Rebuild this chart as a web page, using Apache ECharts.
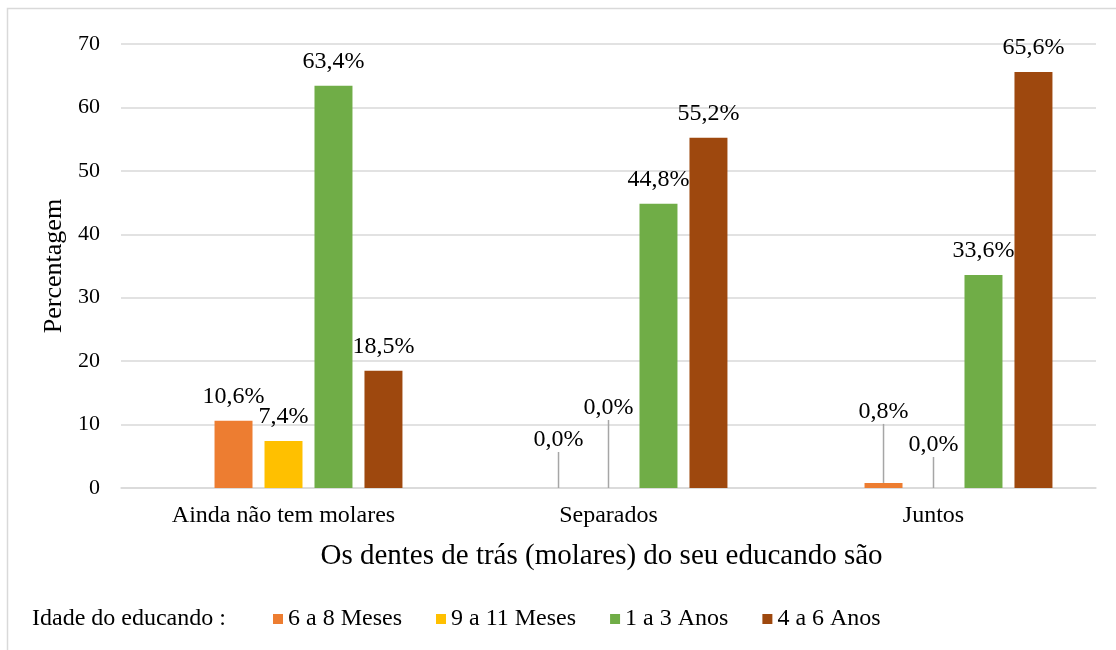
<!DOCTYPE html>
<html>
<head>
<meta charset="utf-8">
<script src="https://cdn.jsdelivr.net/npm/echarts@6/dist/echarts.min.js"></script>
<style>
  html, body { margin: 0; padding: 0; background: #fff; }
  #chart { width: 1116px; height: 650px; }
</style>
</head>
<body>
<div id="chart"></div>
<script>
const categories = ["Ainda não tem molares", "Separados", "Juntos"];
const legendTitle = "Idade do educando :";
const seriesNames = ["6 a 8 Meses", "9 a 11 Meses", "1 a 3 Anos", "4 a 6 Anos"];
const meses6a8 = [10.6, 0.0, 0.8];
const meses9a11 = [7.4, 0.0, 0.0];
const anos1a3 = [63.4, 44.8, 33.6];
const anos4a6 = [18.5, 55.2, 65.6];
const yTicks = [0, 10, 20, 30, 40, 50, 60, 70];

const colors = ["#ED7D31", "#FFC000", "#70AD47", "#9E480E"];
const font = "'Liberation Serif', 'Times New Roman', serif";

// label moved up with a leader line (Excel callouts), per series index -> data index -> dy
const callouts = {
  0: { 1: -24, 2: -47 },
  1: { 1: -56, 2: -19 }
};

function fmt(v) {
  return v.toFixed(1).replace(".", ",") + "%";
}

function makeSeries(name, values, idx) {
  const moves = callouts[idx] || {};
  return {
    name: name,
    type: "bar",
    barGap: "31.6%",
    barCategoryGap: "26.8%",
    itemStyle: { color: colors[idx] },
    label: {
      show: true,
      position: "top",
      distance: 12,
      color: "#000",
      fontFamily: font,
      fontSize: 24,
      formatter: p => fmt(p.value)
    },
    labelLine: {
      show: false,
      lineStyle: { color: "#A6A6A6", width: 1.5 }
    },
    labelLayout: function (p) {
      if (moves[p.dataIndex] !== undefined) {
        return { dy: moves[p.dataIndex] };
      }
      return {};
    },
    data: values.map((v, i) =>
      moves[i] !== undefined ? { value: v, labelLine: { show: true } } : v
    )
  };
}

const chart = echarts.init(document.getElementById("chart"));

const option = {
  animation: false,
  backgroundColor: "#fff",
  graphic: [
    {
      type: "rect",
      shape: { x: 7.5, y: 8.5, width: 1200, height: 800 },
      style: { fill: "none", stroke: "#D9D9D9", lineWidth: 1.5 },
      z: -1
    }
  ],
  title: {
    text: legendTitle,
    left: 27,
    top: 602,
    textStyle: { fontFamily: font, fontSize: 24, fontWeight: "normal", color: "#000" }
  },
  legend: {
    data: seriesNames,
    left: 268,
    top: 602,
    itemWidth: 10,
    itemHeight: 10,
    itemGap: 34,
    icon: "rect",
    textStyle: { fontFamily: font, fontSize: 24, color: "#000" }
  },
  grid: { left: 121, right: 20, top: 44, bottom: 162 },
  xAxis: {
    type: "category",
    data: categories,
    name: "Os dentes de trás (molares) do seu educando são",
    nameLocation: "middle",
    nameGap: 54,
    nameTextStyle: { fontFamily: font, fontSize: 29, color: "#000", padding: [0, 14, 0, 0] },
    axisLine: { lineStyle: { color: "#D9D9D9", width: 1.5 } },
    axisTick: { show: false },
    axisLabel: { fontFamily: font, fontSize: 24, color: "#000", margin: 16 }
  },
  yAxis: {
    type: "value",
    min: yTicks[0],
    max: yTicks[yTicks.length - 1],
    interval: 10,
    name: "Percentagem",
    nameLocation: "middle",
    nameGap: 51,
    nameTextStyle: { fontFamily: font, fontSize: 26, color: "#000" },
    axisLine: { show: false },
    axisTick: { show: false },
    splitLine: { lineStyle: { color: "#D9D9D9", width: 1.5 } },
    axisLabel: { fontFamily: font, fontSize: 22, color: "#000", margin: 21 }
  },
  series: [
    {
      name: legendTitle,
      type: "bar",
      barGap: "31.6%",
      barCategoryGap: "26.8%",
      data: categories.map(() => "-")
    },
    makeSeries(seriesNames[0], meses6a8, 0),
    makeSeries(seriesNames[1], meses9a11, 1),
    makeSeries(seriesNames[2], anos1a3, 2),
    makeSeries(seriesNames[3], anos4a6, 3)
  ]
};

chart.setOption(option);
</script>
</body>
</html>
